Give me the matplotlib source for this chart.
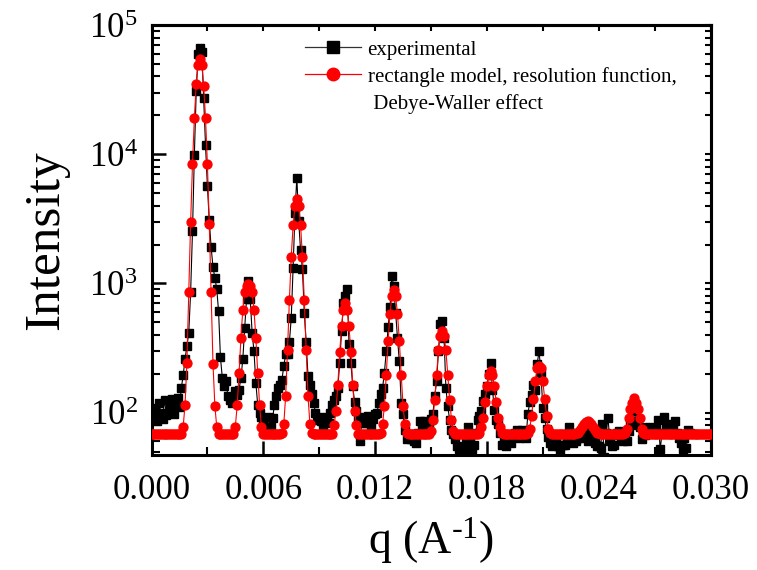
import numpy as np
import matplotlib
matplotlib.use('Agg')
import matplotlib.pyplot as plt
from matplotlib.lines import Line2D
from matplotlib.ticker import MultipleLocator, LogLocator, NullFormatter

# 字体：Times 风格
plt.rcParams['font.family'] = ['Liberation Serif', 'DejaVu Serif']
plt.rcParams['mathtext.fontset'] = 'custom'
plt.rcParams['mathtext.rm'] = 'Liberation Serif'
plt.rcParams['mathtext.it'] = 'Liberation Serif:italic'

# ---- 数据（q 步长 0.0001 A^-1，从 0 开始）----
q_step = 0.0001

exp_intensity = [
    109, 92, 105, 86, 119, 100, 90, 126, 96, 100,
    112, 128, 98, 126, 130, 110, 155, 194, 260, 330,
    415, 857, 2540, 9820, 30900, 60000, 66000, 62000, 27000, 11700,
    5670, 3070, 1900, 1340, 1100, 910, 607, 268, 186, 160,
    175, 134, 126, 118, 126, 146, 138, 151, 186, 258,
    450, 752, 1040, 752, 415, 299, 170, 115, 100, 93,
    85, 78, 77, 93, 78, 91, 115, 134, 155, 165,
    180, 230, 282, 282, 350, 542, 1320, 3530, 6600, 3030,
    1800, 1290, 593, 352, 191, 165, 140, 119, 100, 88,
    92, 86, 80, 88, 93, 83, 100, 115, 125, 134,
    155, 243, 427, 707, 800, 910, 337, 243, 160, 120,
    103, 91, 60, 93, 83, 83, 95, 88, 80, 90,
    98, 100, 119, 140, 155, 204, 300, 457, 652, 1140,
    955, 595, 380, 250, 119, 98, 74, 62, 67, 62,
    67, 60, 58, 70, 86, 80, 86, 72, 78, 83,
    90, 98, 134, 175, 300, 481, 513, 380, 155, 112,
    88, 74, 68, 62, 55, 52, 52, 47, 50, 58,
    78, 58, 52, 56, 70, 88, 95, 103, 122, 140,
    160, 200, 243, 151, 105, 88, 81, 70, 56, 60,
    55, 62, 60, 58, 66, 70, 74, 64, 70, 74,
    68, 64, 98, 120, 138, 165, 151, 240, 299, 203,
    109, 91, 75, 65, 58, 55, 60, 60, 55, 50,
    56, 56, 56, 64, 77, 70, 58, 62, 60, 64,
    64, 70, 77, 66, 60, 62, 68, 64, 58, 55,
    55, 53, 81, 45, 70, 91, 60, 55, 56, 67,
    70, 72, 64, 60, 66, 60, 72, 86, 83, 103,
    86, 80, 77, 62, 70, 67, 72, 78, 74, 70,
    70, 76, 88, 52, 70, 93, 80, 77, 72, 81,
    78, 86, 70, 64, 58, 52, 64, 53, 74, 70,
]

model_intensity = [
    68, 68, 68, 68, 68, 68, 68, 68, 68, 68,
    68, 68, 68, 68, 68, 68, 68, 78, 115, 244,
    857, 2970, 8360, 19000, 34900, 49000, 54500, 49000, 34000, 19000,
    8360, 2900, 860, 240, 113, 78, 68, 68, 68, 68,
    68, 68, 68, 68, 68, 78, 115, 204, 379, 628,
    857, 950, 982, 950, 857, 628, 379, 204, 115, 78,
    68, 68, 68, 68, 68, 68, 68, 68, 68, 68,
    70, 82, 134, 307, 743, 1610, 2820, 3990, 4480, 3990,
    2820, 1610, 743, 307, 134, 82, 70, 68, 68, 68,
    68, 68, 68, 68, 68, 68, 68, 68, 80, 103,
    165, 293, 467, 628, 700, 628, 467, 293, 165, 103,
    80, 68, 68, 68, 68, 68, 68, 68, 68, 68,
    68, 68, 68, 70, 81, 113, 197, 361, 585, 795,
    887, 795, 585, 361, 197, 113, 81, 70, 68, 68,
    68, 68, 68, 68, 68, 68, 68, 68, 68, 68,
    72, 88, 126, 197, 304, 395, 427, 395, 304, 197,
    126, 88, 72, 68, 68, 68, 68, 68, 68, 68,
    68, 68, 68, 68, 68, 68, 70, 78, 91, 120,
    160, 197, 210, 197, 160, 120, 91, 78, 70, 68,
    68, 68, 68, 68, 68, 68, 68, 68, 68, 68,
    68, 68, 70, 75, 95, 128, 175, 223, 230, 223,
    175, 128, 95, 75, 70, 68, 68, 68, 68, 68,
    68, 68, 68, 68, 68, 68, 68, 68, 69, 70,
    73, 77, 81, 84, 86, 84, 81, 77, 73, 70,
    69, 68, 68, 68, 68, 68, 68, 68, 68, 68,
    68, 68, 68, 68, 70, 75, 91, 107, 119, 130,
    119, 107, 91, 75, 70, 68, 68, 68, 68, 68,
    68, 68, 68, 68, 68, 68, 68, 68, 68, 68,
    68, 68, 68, 68, 68, 68, 68, 68, 68, 68,
    68, 68, 68, 68, 68, 68, 68, 68, 68, 68,
    68,
]

q_exp = np.arange(len(exp_intensity)) * q_step
q_model = np.arange(len(model_intensity)) * q_step

label_exp = 'experimental'
label_model = 'rectangle model, resolution function,'
label_model2 = ' Debye-Waller effect'

# ---- 绘图 ----
fig = plt.figure(figsize=(7.57, 5.70), dpi=100)
ax = fig.add_axes([151.5 / 757, 1 - 455 / 570, 559 / 757, 430 / 570])

ax.plot(q_exp, exp_intensity, color='black', linewidth=0.8,
        marker='s', markersize=5.8, markerfacecolor='black',
        markeredgecolor='black', zorder=2)
ax.plot(q_model, model_intensity, color='#ff0000', linewidth=0.8,
        marker='o', markersize=6.4, markerfacecolor='#ff0000',
        markeredgecolor='#ff0000', zorder=3)

ax.set_yscale('log')
ax.set_xlim(0, 0.030)
ax.set_ylim(47, 1e5)

ax.xaxis.set_major_locator(MultipleLocator(0.006))
ax.xaxis.set_minor_locator(MultipleLocator(0.003))
ax.xaxis.set_major_formatter(matplotlib.ticker.FormatStrFormatter('%.3f'))
ax.yaxis.set_major_locator(LogLocator(base=10, numticks=10))
ax.yaxis.set_minor_locator(LogLocator(base=10, subs=np.arange(2, 10), numticks=20))
ax.yaxis.set_minor_formatter(NullFormatter())

ax.tick_params(which='major', direction='in', length=10, width=1.8,
               labelsize=25)
ax.tick_params(axis='x', which='major', pad=14)
ax.tick_params(axis='y', which='major', pad=10)
ax.tick_params(which='minor', direction='in', length=6, width=1.5)
ax.tick_params(top=False, right=False)

for sp in ax.spines.values():
    sp.set_linewidth(2.2)

# 顶部和右侧的短刻度
top = ax.secondary_xaxis('top')
top.xaxis.set_major_locator(MultipleLocator(0.003))
top.tick_params(direction='in', length=4, width=1.5, labeltop=False)
top.spines['top'].set_linewidth(2.2)

right = ax.secondary_yaxis('right')
right.yaxis.set_major_locator(LogLocator(base=10, numticks=10))
right.yaxis.set_minor_locator(LogLocator(base=10, subs=np.arange(2, 10), numticks=20))
right.tick_params(which='both', direction='in', length=4, width=1.5,
                  labelright=False)
right.spines['right'].set_linewidth(2.2)

ax.set_xlabel('q (A$^{\\mathregular{\u2010}1}$)', fontsize=33, labelpad=6)
ax.set_ylabel('Intensity', fontsize=37, labelpad=14)

handles = [
    Line2D([], [], color='#333333', linewidth=0.9, marker='s',
           markersize=8, markerfacecolor='black', markeredgecolor='black'),
    Line2D([], [], color='#ff0000', linewidth=0.9, marker='o',
           markersize=9, markerfacecolor='#ff0000', markeredgecolor='#ff0000'),
    Line2D([], [], linestyle='none', marker=None),
]
ax.legend(handles, [label_exp, label_model, label_model2],
          loc='upper left', bbox_to_anchor=(305 / 757, 1 - 40 / 570),
          bbox_transform=fig.transFigure, frameon=False, fontsize=15,
          handlelength=2.7, handletextpad=0.3, labelspacing=0.35,
          borderaxespad=0, borderpad=0)

fig.savefig('out.png', dpi=100)
